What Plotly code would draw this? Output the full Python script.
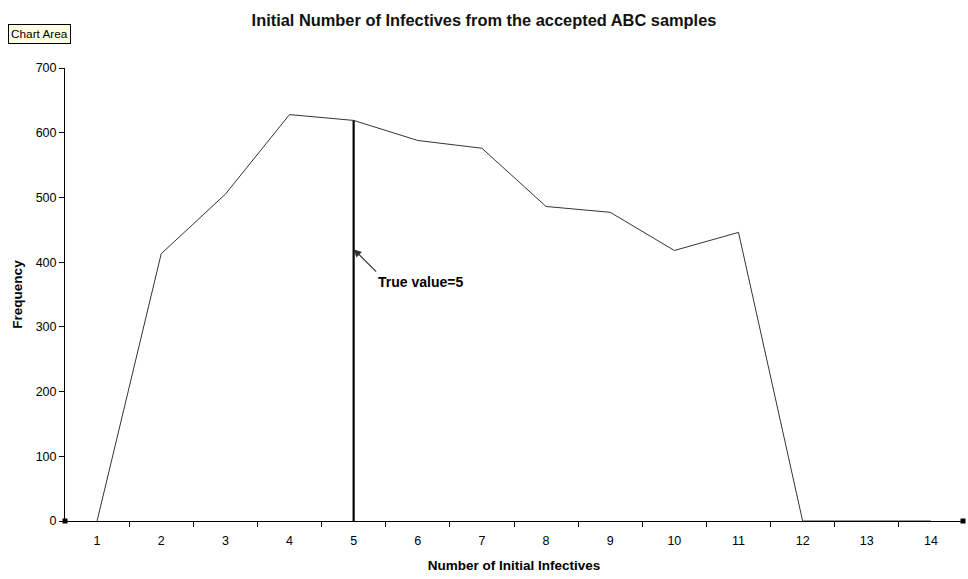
import plotly.graph_objects as go

categories = list(range(1, 15))
frequency = [0, 413, 505, 628, 619, 588, 576, 486, 477, 418, 446, 0, 0, 0]
true_value = 5
true_value_freq = 619
y_ticks = [0, 100, 200, 300, 400, 500, 600, 700]

FONT = "Liberation Sans, Arial"

fig = go.Figure()
fig.add_trace(go.Scatter(x=categories, y=frequency, mode="lines",
                         line=dict(color="#333333", width=1), showlegend=False,
                         hoverinfo="skip"))
fig.add_trace(go.Scatter(x=[true_value, true_value], y=[0, true_value_freq], mode="lines",
                         line=dict(color="#000000", width=2.2), showlegend=False,
                         hoverinfo="skip"))
# Excel-style selection handles at axis ends
fig.add_trace(go.Scatter(x=[0.5, 14.5], y=[0, 0], mode="markers",
                         marker=dict(symbol="square", size=5, color="#000000"),
                         showlegend=False, cliponaxis=False, hoverinfo="skip"))

fig.add_annotation(x=true_value, y=420, ax=24, ay=24, axref="pixel", ayref="pixel",
                   text="", showarrow=True, arrowhead=2, arrowsize=1.3, arrowwidth=1.2,
                   arrowcolor="#333333", standoff=0)
fig.add_annotation(x=true_value, y=370, xanchor="left", yanchor="middle", xshift=22,
                   text="<b>True value=5</b>", showarrow=False,
                   font=dict(family=FONT, size=14, color="#000000"))

fig.add_annotation(x=(8 - 65) / 898, y=(521 - 34.5) / 453, xref="paper", yref="paper",
                   xanchor="left", yanchor="middle", text="Chart Area", showarrow=False,
                   bgcolor="#ffffe1", bordercolor="#000000", borderwidth=1, borderpad=2,
                   font=dict(family=FONT, size=11.8, color="#000000"))

fig.update_layout(
    width=968, height=579,
    margin=dict(l=65, r=5, t=68, b=58),
    paper_bgcolor="white", plot_bgcolor="white",
    font=dict(family=FONT, size=12.5, color="#000000"),
    title=dict(text="<b>Initial Number of Infectives from the accepted ABC samples</b>",
               x=0.5, xanchor="center", y=1 - 20 / 579, yanchor="middle",
               font=dict(size=16.4, family=FONT, color="#111111")),
    xaxis=dict(range=[0.5, 14.5], tickmode="array", tickvals=categories,
               ticktext=[str(c) for c in categories], ticks="", showgrid=False,
               zeroline=False, showline=True, linecolor="#000000", linewidth=1,
               ticklabelstandoff=8,
               title=dict(text="<b>Number of Initial Infectives</b>", standoff=13,
                          font=dict(size=13.5)),
               minor=dict(tickmode="array", tickvals=[c + 0.5 for c in categories[:-1]],
                          ticks="outside", ticklen=5, tickcolor="#000000", showgrid=False)),
    yaxis=dict(range=[0, 700], tickmode="array", tickvals=y_ticks, ticks="outside",
               ticklen=5, tickcolor="#000000", showgrid=False, zeroline=False,
               showline=True, linecolor="#000000", linewidth=1,
               title=dict(text="<b>Frequency</b>", standoff=9, font=dict(size=13.5))),
)

fig.write_html("out.html")
